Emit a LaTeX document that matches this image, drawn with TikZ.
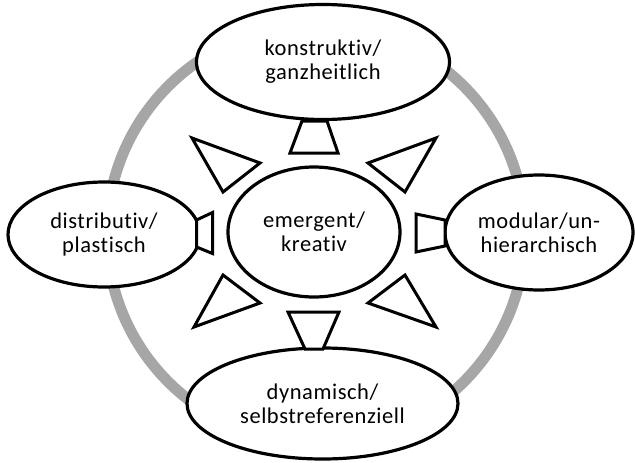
\documentclass[tikz,border=0pt]{standalone}
\usepackage{fontspec}
\setmainfont{Carlito}[LetterSpace=2.5, Ligatures=NoCommon]
\usetikzlibrary{shapes.geometric}
\definecolor{ringgray}{RGB}{166,166,166}
\begin{document}
\begin{tikzpicture}[x=1pt,y=-1pt,
  oval/.style={ellipse, draw=black, line width=3.2pt, fill=white, inner sep=0pt,
    align=center, text=black, font=\fontsize{22.5}{24}\selectfont},
  wedge/.style={draw=black, line width=3pt, fill=white, line join=miter}]
\useasboundingbox (0,0) rectangle (635,463);
% gray ring
\draw[ringgray, line width=11pt] (316,234) circle[radius=209pt];
% ellipses
\node[oval, minimum width=253pt, minimum height=115pt] (T) at (323,62) {konstruktiv/\\ganzheitlich};
\node[oval, minimum width=192pt, minimum height=105pt] (L) at (104,234.5) {distributiv/\\plastisch};
\node[oval, minimum width=188pt, minimum height=115pt] (R) at (539,232.5) {modular/un-\\hierarchisch};
\node[oval, minimum width=271pt, minimum height=111pt] (B) at (322.5,403.5) {dynamisch/\\selbstreferenziell};
\node[oval, minimum width=172pt, minimum height=130pt] (C) at (314,232) {emergent/\\kreativ};
% trapezoids
\draw[wedge] (302,121) -- (327,121) -- (338,153) -- (290,153) -- cycle;
\draw[wedge] (288,312) -- (339,312) -- (323,349) -- (305,349) -- cycle;
\draw[wedge] (196.5,220) -- (212.5,212.5) -- (212.5,253.5) -- (196.5,247) -- cycle;
\draw[wedge] (416,214) -- (445,220) -- (445,246) -- (416,252) -- cycle;
% triangles
\draw[wedge] (192,138) -- (260,163) -- (223,192) -- cycle;
\draw[wedge] (436,138) -- (368,163) -- (405,192) -- cycle;
\draw[wedge] (194,327) -- (260,303) -- (223,275) -- cycle;
\draw[wedge] (436,327) -- (368,303) -- (405,275) -- cycle;
\end{tikzpicture}
\end{document}
